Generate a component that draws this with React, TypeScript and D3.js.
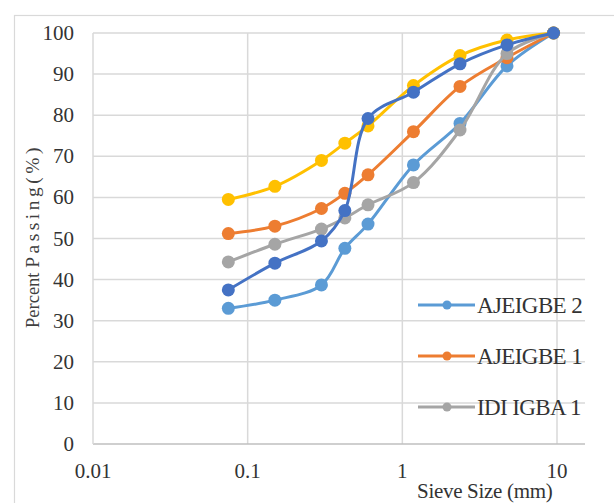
import React, { useEffect, useRef } from 'react'
import * as d3 from 'd3'

// sieve sizes (mm)
const sieveSizes = [0.075, 0.15, 0.3, 0.425, 0.6, 1.18, 2.36, 4.75, 9.5]

// percent passing per sample
const ajeigbe2 = [33, 35, 38.7, 47.6, 53.5, 67.9, 78, 92, 100]
const ajeigbe1 = [51.2, 53, 57.3, 61, 65.5, 76, 87, 94, 100]
const idiIgba1 = [44.3, 48.6, 52.3, 55, 58.2, 63.6, 76.4, 95, 100]
const sample4 = [59.5, 62.7, 69, 73.2, 77.4, 87.2, 94.5, 98.3, 100]
const sample5 = [37.5, 44, 49.4, 56.8, 79.2, 85.6, 92.5, 97.1, 100]

const yTicks = [0, 10, 20, 30, 40, 50, 60, 70, 80, 90, 100]
const xTicks = [0.01, 0.1, 1, 10]
const xTickLabels = ['0.01', '0.1', '1', '10']

const series = [
  { name: 'AJEIGBE 2', values: ajeigbe2, color: '#5B9BD5', legend: true },
  { name: 'AJEIGBE 1', values: ajeigbe1, color: '#ED7D31', legend: true },
  { name: 'IDI IGBA 1', values: idiIgba1, color: '#A5A5A5', legend: true },
  { name: 'Sample 4', values: sample4, color: '#FFC000', legend: false },
  { name: 'Sample 5', values: sample5, color: '#4472C4', legend: false },
]

const W = 614
const H = 503
const FONT = '"Liberation Serif", "Times New Roman", serif'

const App = () => {
  const ref = useRef<SVGSVGElement>(null)

  useEffect(() => {
    const svg = d3.select(ref.current)
    svg.selectAll('*').remove()

    const x = d3.scaleLog().domain([0.01, 10]).range([93, 557])
    const y = d3.scaleLinear().domain([0, 100]).range([444, 33])
    const plotRight = 585

    // chart frame
    svg.append('rect')
      .attr('x', 14.5).attr('y', 15.5)
      .attr('width', 700).attr('height', 600)
      .attr('fill', 'none').attr('stroke', '#d9d9d9').attr('stroke-width', 1.2)

    // gridlines
    svg.append('g')
      .selectAll('line')
      .data(yTicks.filter(d => d > 0))
      .join('line')
        .attr('x1', x(0.01)).attr('x2', plotRight)
        .attr('y1', d => y(d)).attr('y2', d => y(d))
        .attr('stroke', '#d9d9d9').attr('stroke-width', 1.5)
    svg.append('g')
      .selectAll('line')
      .data(xTicks.slice(1))
      .join('line')
        .attr('x1', d => x(d)).attr('x2', d => x(d))
        .attr('y1', y(100)).attr('y2', y(0))
        .attr('stroke', '#d9d9d9').attr('stroke-width', 1.5)

    // axis lines
    svg.append('line')
      .attr('x1', x(0.01)).attr('x2', plotRight)
      .attr('y1', y(0)).attr('y2', y(0))
      .attr('stroke', '#bfbfbf').attr('stroke-width', 1.5)
    svg.append('line')
      .attr('x1', x(0.01)).attr('x2', x(0.01))
      .attr('y1', y(100)).attr('y2', y(0))
      .attr('stroke', '#d9d9d9').attr('stroke-width', 1.5)

    // tick labels
    svg.append('g')
      .selectAll('text')
      .data(yTicks)
      .join('text')
        .attr('x', 74).attr('y', d => y(d) + 7)
        .attr('text-anchor', 'end')
        .attr('font-family', FONT).attr('font-size', 21)
        .attr('fill', '#333')
        .text(d => d)
    svg.append('g')
      .selectAll('text')
      .data(xTicks)
      .join('text')
        .attr('x', d => x(d)).attr('y', 478)
        .attr('text-anchor', 'middle')
        .attr('font-family', FONT).attr('font-size', 21)
        .attr('fill', '#333')
        .text((d, i) => xTickLabels[i])

    // axis titles
    svg.append('text')
      .attr('x', 417).attr('y', 498)
      .attr('font-family', FONT).attr('font-size', 21)
      .attr('letter-spacing', -0.3)
      .attr('fill', '#333')
      .text('Sieve Size (mm)')
    const yt = svg.append('text')
      .attr('transform', 'translate(39,236) rotate(-90)')
      .attr('text-anchor', 'middle')
      .attr('font-family', FONT)
      .attr('fill', '#404040')
    yt.append('tspan').attr('font-size', 18.5).text('Percent ')
    yt.append('tspan').attr('font-size', 19.5).attr('letter-spacing', 3.5).text('Passing(%)')

    // series lines and markers
    const line = d3.line<number>()
      .x((d, i) => x(sieveSizes[i]))
      .y(d => y(d))
      .curve(d3.curveCatmullRom)

    series.forEach(s => {
      const g = svg.append('g')
      g.append('path')
        .attr('d', line(s.values))
        .attr('fill', 'none')
        .attr('stroke', s.color)
        .attr('stroke-width', 3)
      g.selectAll('circle')
        .data(s.values)
        .join('circle')
          .attr('cx', (d, i) => x(sieveSizes[i]))
          .attr('cy', d => y(d))
          .attr('r', 6.5)
          .attr('fill', s.color)
    })

    // legend
    const legend = svg.append('g')
      .selectAll('g')
      .data(series.filter(s => s.legend))
      .join('g')
        .attr('transform', (d, i) => `translate(418, ${305 + i * 51})`)
    legend.append('line')
      .attr('x1', 0).attr('x2', 57)
      .attr('stroke', d => d.color).attr('stroke-width', 3)
    legend.append('circle')
      .attr('cx', 29).attr('r', 4.5)
      .attr('fill', d => d.color)
    legend.append('text')
      .attr('x', 59).attr('y', 8)
      .attr('font-family', FONT).attr('font-size', 23)
      .attr('letter-spacing', -0.6)
      .attr('fill', '#333')
      .text(d => d.name)
  }, [])

  return (
    <svg ref={ref} width={W} height={H}
      style={{ position: 'absolute', left: 0, top: 0, background: '#fff' }} />
  )
}

export default App
